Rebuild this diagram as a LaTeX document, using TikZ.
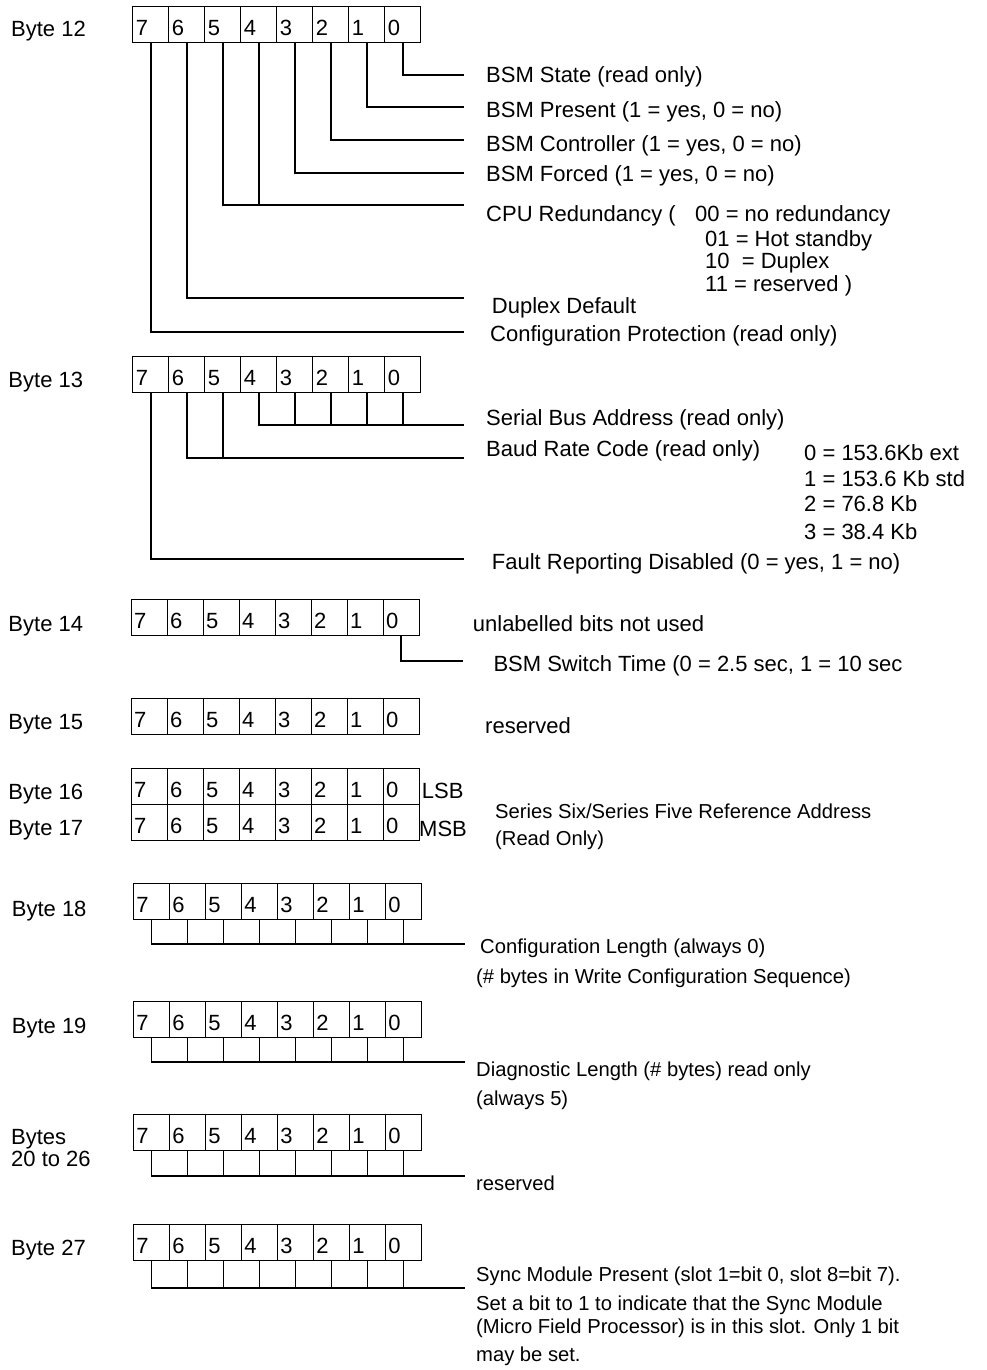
\documentclass[tikz,border=0pt]{standalone}
\usepackage{fontspec}
\setmainfont{Liberation Sans}
\begin{document}
\begin{tikzpicture}[x=1pt,y=-1pt,
  cell/.style={draw, line width=0.9pt, minimum width=36pt, minimum height=36pt,
    inner sep=0pt, anchor=north west, text height=22pt, text depth=0pt,
    text width=30pt, align=left},
  txt/.style={anchor=base west, inner sep=0pt},
  stxt/.style={anchor=base west, inner sep=0pt, font=\fontsize{20.2}{23}\selectfont},
  conn/.style={line width=1.8pt, line cap=rect}]
\fontsize{22}{25}\selectfont
\useasboundingbox (0,0) rectangle (986,1370);
\newcommand{\bytecells}[3]{%
  \foreach \b in {7,6,5,4,3,2,1,0}{%
    \pgfmathsetmacro{\xx}{#2+(7-\b)*36}%
    \node[cell] (#1-\b) at (\xx,#3) {\b};}}
% ---- byte labels
\node[txt] (n12) at (11,36.7) {Byte 12};
\node[txt] (n13) at (8.3,387.7) {Byte 13};
\node[txt] (n14) at (8.3,631) {Byte 14};
\node[txt] (n15) at (8.3,729.3) {Byte 15};
\node[txt] (n16) at (8.3,799.3) {Byte 16};
\node[txt] (n17) at (8.3,835) {Byte 17};
\node[txt] (n18) at (11.7,916.7) {Byte 18};
\node[txt] (n19) at (11.7,1033.3) {Byte 19};
\node[txt] (n20a) at (11,1144) {Bytes};
\node[txt] (n20b) at (11,1166.7) {20 to 26};
\node[txt] (n27) at (11,1255) {Byte 27};
% ---- cells
\bytecells{b12}{132.3}{6}
\bytecells{b13}{132.3}{356}
\bytecells{b14}{130.7}{599.3}
\bytecells{b15}{130.7}{697.7}
\bytecells{b16}{130.7}{767.7}
\bytecells{b17}{130.7}{804}
\bytecells{b18}{133}{883.3}
\bytecells{b19}{133}{1000.7}
\bytecells{b20}{133}{1114}
\bytecells{b27}{133}{1224.3}
% ---- Byte 12 texts
\node[txt] (t12a) at (486,82.7) {BSM State (read only)};
\node[txt] (t12b) at (486,118) {BSM Present (1 = yes, 0 = no)};
\node[txt] (t12c) at (486,151.7) {BSM Controller (1 = yes, 0 = no)};
\node[txt] (t12d) at (486,181) {BSM Forced (1 = yes, 0 = no)};
\node[txt] (t12e) at (486,221.7) {CPU Redundancy (};
\node[txt] (t12e1) at (695,221.7) {00 = no redundancy};
\node[txt] (t12e2) at (705,246.7) {01 = Hot standby};
\node[txt] (t12e3) at (705,268) {10\ \ = Duplex};
\node[txt] (t12e4) at (705,291.7) {11 = reserved )};
\node[txt] (t12f) at (491.7,313) {Duplex Default};
\node[txt] (t12g) at (490,341.7) {Configuration Protection (read only)};
% ---- Byte 12 connectors
\coordinate (e12-0) at (463.3,75);
\coordinate (e12-1) at (463.3,107.3);
\coordinate (e12-2) at (463.3,140.3);
\coordinate (e12-3) at (463.3,172.7);
\coordinate (e12-54) at (463.3,205);
\coordinate (e12-6) at (463.3,298.3);
\coordinate (e12-7) at (463.3,331.7);
\draw[conn] (b12-0.south) |- (e12-0);
\draw[conn] (b12-1.south) |- (e12-1);
\draw[conn] (b12-2.south) |- (e12-2);
\draw[conn] (b12-3.south) |- (e12-3);
\draw[conn] (b12-5.south) |- (e12-54);
\draw[conn] (b12-4.south) -- (b12-4.south |- e12-54);
\draw[conn] (b12-6.south) |- (e12-6);
\draw[conn] (b12-7.south) |- (e12-7);
% ---- Byte 13
\node[txt] (t13a) at (486,425) {Serial Bus Address (read only)};
\node[txt] (t13b) at (486,456.7) {Baud Rate Code (read only)};
\node[txt] (r0) at (804,460) {0 = 153.6Kb ext};
\node[txt] (r1) at (804,486) {1 = 153.6 Kb std};
\node[txt] (r2) at (804,511.7) {2 = 76.8 Kb};
\node[txt] (r3) at (804,539.3) {3 = 38.4 Kb};
\node[txt] (t13c) at (491.7,569.3) {Fault Reporting Disabled (0 = yes, 1 = no)};
\coordinate (e13-a) at (463.3,425);
\coordinate (e13-b) at (463.3,458.3);
\coordinate (e13-c) at (463.3,559.3);
\draw[conn] (b13-4.south) |- (e13-a);
\foreach \b in {3,2,1,0}{\draw[conn] (b13-\b.south) -- (b13-\b.south |- e13-a);}
\draw[conn] (b13-6.south) |- (e13-b);
\draw[conn] (b13-5.south) -- (b13-5.south |- e13-b);
\draw[conn] (b13-7.south) |- (e13-c);
% ---- Byte 14
\node[txt] (t14a) at (472.7,631.7) {unlabelled bits not used};
\node[txt] (t14b) at (493.3,671.7) {BSM Switch Time (0 = 2.5 sec, 1 = 10 sec};
\coordinate (e14) at (461.7,660.7);
\draw[conn] (b14-0.south) |- (e14);
% ---- Byte 15
\node[txt] (t15) at (485,733) {reserved};
% ---- Byte 16/17
\node[txt] (lsb) at (421.7,798.3) {LSB};
\node[txt] (msb) at (419,836.7) {MSB};
\node[stxt] (t16a) at (495,818.3) {Series Six/Series Five Reference Address};
\node[stxt] (t16b) at (495,845) {(Read Only)};
% ---- Byte 18
\node[stxt] (t18a) at (480,953.3) {Configuration Length (always 0)};
\node[stxt] (t18b) at (476,983.3) {(\# bytes in Write Configuration Sequence)};
\coordinate (e18) at (464,944.3);
\draw[conn] (b18-7.south) |- (e18);
\foreach \b in {6,5,4,3,2,1,0}{\draw[conn] (b18-\b.south) -- (b18-\b.south |- e18);}
% ---- Byte 19
\node[stxt] (t19a) at (476,1076) {Diagnostic Length (\# bytes) read only};
\node[stxt] (t19b) at (476,1105) {(always 5)};
\coordinate (e19) at (464,1061.7);
\draw[conn] (b19-7.south) |- (e19);
\foreach \b in {6,5,4,3,2,1,0}{\draw[conn] (b19-\b.south) -- (b19-\b.south |- e19);}
% ---- Bytes 20 to 26
\node[stxt] (t20) at (476,1190) {reserved};
\coordinate (e20) at (464,1175.7);
\draw[conn] (b20-7.south) |- (e20);
\foreach \b in {6,5,4,3,2,1,0}{\draw[conn] (b20-\b.south) -- (b20-\b.south |- e20);}
% ---- Byte 27
\node[stxt] (t27a) at (476,1281.7) {Sync Module Present (slot 1=bit 0, slot 8=bit 7).};
\node[stxt] (t27b) at (476,1310) {Set a bit to 1 to indicate that the Sync Module};
\node[stxt] (t27c) at (476,1333.3) {(Micro Field Processor) is in this slot. Only 1 bit};
\node[stxt] (t27d) at (476,1361.7) {may be set.};
\coordinate (e27) at (464,1287.7);
\draw[conn] (b27-7.south) |- (e27);
\foreach \b in {6,5,4,3,2,1,0}{\draw[conn] (b27-\b.south) -- (b27-\b.south |- e27);}
\end{tikzpicture}
\end{document}
